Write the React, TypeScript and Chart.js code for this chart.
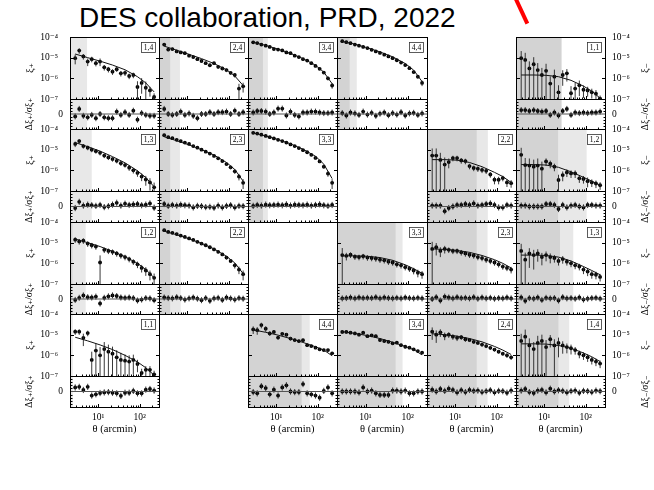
import React, { useEffect, useRef } from "react";
import { Chart, registerables } from "chart.js";
Chart.register(...registerables);

// ---------------- data ----------------
const THETA = [2.8, 3.5, 4.4, 5.6, 7.0, 8.8, 11.1, 14.0, 17.6, 22.1, 27.9, 35.1, 44.2, 55.6, 70.0, 88.1, 110.9, 139.6, 175.8, 221.3];
const MODEL_THETA = [2.8, 5.6, 11.1, 22.1, 44.2, 88.1, 139.6, 221.3];

const X_MIN = 2.1, X_MAX = 290;
const X_TICKS = [10, 100];
const X_TICK_LABELS = ["10¹", "10²"];
const X_MINOR = [3, 4, 5, 6, 7, 8, 9, 20, 30, 40, 50, 60, 70, 80, 90, 200];
const Y_MIN = 1e-7, Y_MAX = 1e-4;
const Y_TICKS = [1e-4, 1e-5, 1e-6, 1e-7];
const Y_TICK_LABELS = ["10⁻⁴", "10⁻⁵", "10⁻⁶", "10⁻⁷"];
const R_MIN = -5, R_MAX = 5;
const R_TICKS = [0];
const R_TICK_LABELS = ["0"];
const R_MINOR = [-4, -3, -2, -1, 1, 2, 3, 4];

// xi+ 1,4
const XI_P14 = [9.5e-6, 2.2e-5, 1.15e-5, 6.5e-6, 8.5e-6, 5.4e-6, 6.5e-6, 3.4e-6, 2.75e-6, 2.1e-6, 2.75e-6, 1.75e-6, 1.85e-6, 1.3e-6, 1.45e-6, 3.8e-7, 6.0e-7, 3.5e-7, 2.6e-7, 1.25e-7];
const ER_P14 = [0.5, 0.3, 0.3, 0.4, 0.3, 0.3, 0.4, 0.3, 0.3, 0.3, 0.25, 0.3, 0.3, 0.3, 0.3, 0.9, 0.7, 1.0, 0.5, 0.5];
const TH_P14 = [1.5e-5, 1.0e-5, 6.8e-6, 4.4e-6, 2.6e-6, 1.2e-6, 6e-7, 2.2e-7];
const RS_P14 = [-0.8, 1.7, -0.6, -1.1, -0.3, -1.4, 0, -1.1, -1.4, -1.4, 0.8, -0.3, 0.6, -0.3, 1.1, -1.9, 0.3, -0.3, -0.6, -0.6];
// xi+ 2,4
const XI_P24 = [4.3e-5, 2.45e-5, 2.6e-5, 2.0e-5, 1.8e-5, 1.65e-5, 1.25e-5, 1.07e-5, 8.5e-6, 6.9e-6, 5.4e-6, 4.3e-6, 5.4e-6, 3.6e-6, 3.0e-6, 2.5e-6, 1.85e-6, 1.45e-6, 3.2e-7, 4.1e-7];
const ER_P24 = [0.15, 0.15, 0.15, 0.15, 0.15, 0.15, 0.15, 0.15, 0.15, 0.15, 0.15, 0.15, 0.15, 0.2, 0.2, 0.2, 0.2, 0.25, 0.7, 0.5];
const TH_P24 = [3.6e-5, 2.3e-5, 1.45e-5, 9e-6, 5.2e-6, 2.6e-6, 1.3e-6, 4.5e-7];
const RS_P24 = [1.7, 0, -0.3, 0, 0.8, -0.3, 0.2, -0.6, -1.4, 0, 0, 0.6, 0, 0.6, 0.6, 0.8, 0, 1.1, 0, 0.6];
// xi+ 3,4
const XI_P34 = [5.5e-5, 5.1e-5, 4.3e-5, 3.8e-5, 3.3e-5, 2.6e-5, 2.45e-5, 2.25e-5, 1.8e-5, 1.65e-5, 1.25e-5, 1.07e-5, 8.5e-6, 7.2e-6, 5.4e-6, 4.0e-6, 2.9e-6, 1.9e-6, 1.0e-6, 4.5e-7];
const ER_P34 = [0.1, 0.1, 0.1, 0.1, 0.1, 0.1, 0.1, 0.1, 0.1, 0.1, 0.1, 0.1, 0.1, 0.1, 0.1, 0.12, 0.12, 0.15, 0.2, 0.3];
const TH_P34 = [5.6e-5, 3.9e-5, 2.6e-5, 1.6e-5, 9e-6, 4.3e-6, 2.0e-6, 5.5e-7];
const RS_P34 = [0.5, 1, 1, 0.8, 0, 0.5, 1.8, 1.8, -0.5, 0.8, -0.3, -0.8, 0.5, 0.5, 0.8, 0.8, 0.5, 0.3, 0.3, 0.5];
// xi+ 4,4
const XI_P44 = [6.3e-5, 5.6e-5, 5.0e-5, 4.3e-5, 3.8e-5, 3.3e-5, 2.9e-5, 2.4e-5, 2.0e-5, 1.7e-5, 1.4e-5, 1.15e-5, 9.5e-6, 7.5e-6, 5.8e-6, 4.4e-6, 3.1e-6, 2.0e-6, 1.2e-6, 6e-7];
const ER_P44 = [0.1, 0.1, 0.1, 0.1, 0.1, 0.1, 0.1, 0.1, 0.1, 0.1, 0.1, 0.1, 0.1, 0.1, 0.1, 0.12, 0.12, 0.15, 0.2, 0.3];
const TH_P44 = [6.2e-5, 4.5e-5, 3.0e-5, 1.9e-5, 1.1e-5, 5.2e-6, 2.5e-6, 7e-7];
const RS_P44 = [0.3, -0.5, 0.5, 0.2, -0.3, 0.8, -0.2, 0.4, -0.6, 0.1, 0.5, -0.4, 0.3, -0.2, 0.6, -0.5, 0.2, 0.4, -0.3, 0.2];
// xi- 1,1
const XI_M11 = [9.5e-6, 7.8e-6, 3.0e-6, 4.8e-6, 2.5e-6, 1.45e-6, 2.3e-6, 5.6e-7, 1.2e-6, 2.1e-7, 1.45e-6, 1.75e-6, 1.9e-7, 3.2e-7, 4.6e-7, 2.8e-7, 2.6e-7, 2.1e-7, 1.8e-7, 1.05e-7];
const ER_M11 = [1.2, 1.2, 1.2, 1.2, 1.2, 1.2, 1.2, 1.2, 1.2, 1.2, 0.7, 0.6, 1.2, 0.9, 0.7, 0.6, 0.5, 0.5, 0.5, 0.4];
const TH_M11 = [1.45e-6, 1.45e-6, 1.4e-6, 1.2e-6, 8e-7, 4.2e-7, 2.4e-7, 1.1e-7];
const RS_M11 = [1.3, 1.3, 1, 1.3, 1, 0.8, 1, -0.3, 0.5, -0.5, 1, 1.7, -0.3, 0.5, 0.3, 0.5, 0.3, 0.5, 0.5, 0.8];
// xi+ 1,3
const XI_P13 = [1.9e-5, 2.6e-5, 1.5e-5, 1.25e-5, 1.0e-5, 8.5e-6, 7e-6, 5.2e-6, 4.2e-6, 3.5e-6, 2.9e-6, 2.2e-6, 1.8e-6, 1.35e-6, 1.0e-6, 7.5e-7, 5e-7, 3.6e-7, 2.6e-7, 1.5e-7];
const ER_P13 = [0.3, 0.25, 0.25, 0.25, 0.25, 0.25, 0.25, 0.25, 0.25, 0.25, 0.25, 0.25, 0.25, 0.3, 0.3, 0.35, 0.4, 0.5, 0.6, 0.7];
const TH_P13 = [2.2e-5, 1.4e-5, 8.5e-6, 4.6e-6, 2.3e-6, 9.5e-7, 4.5e-7, 1.6e-7];
const RS_P13 = [-0.5, 1.5, 0.3, 0.6, 0.4, 0.2, 0.5, -0.2, 0.1, 0.6, 1.2, 0.3, 0.9, 0.5, 0.7, 0.8, 0.4, 0.6, 1.0, -0.4];
// xi+ 2,3
const XI_P23 = [5.0e-5, 4.0e-5, 3.6e-5, 3.0e-5, 2.6e-5, 2.2e-5, 1.9e-5, 1.5e-5, 1.25e-5, 1.0e-5, 8e-6, 6.5e-6, 5e-6, 3.8e-6, 2.8e-6, 2e-6, 1.4e-6, 9e-7, 5e-7, 2.5e-7];
const ER_P23 = [0.12, 0.12, 0.12, 0.12, 0.12, 0.12, 0.12, 0.12, 0.12, 0.12, 0.12, 0.12, 0.12, 0.15, 0.15, 0.15, 0.2, 0.25, 0.35, 0.5];
const TH_P23 = [4.2e-5, 2.7e-5, 1.7e-5, 1.0e-5, 5.5e-6, 2.4e-6, 1.1e-6, 3e-7];
const RS_P23 = [0.8, 0.2, 0.5, 0.3, 0.6, 0.4, 0.3, -0.3, 0.2, 0.1, -0.2, -0.1, -0.4, 0.3, -0.3, 0.2, 0.4, -0.3, 0.2, 0.1];
// xi+ 3,3
const XI_P33 = [6.5e-5, 6.0e-5, 5.3e-5, 4.6e-5, 4.0e-5, 3.5e-5, 3.0e-5, 2.6e-5, 2.2e-5, 1.8e-5, 1.5e-5, 1.2e-5, 9.5e-6, 7.5e-6, 5.6e-6, 4e-6, 2.7e-6, 1.5e-6, 7e-7, 2.5e-7];
const ER_P33 = [0.1, 0.1, 0.1, 0.1, 0.1, 0.1, 0.1, 0.1, 0.1, 0.1, 0.1, 0.1, 0.1, 0.1, 0.12, 0.15, 0.15, 0.2, 0.3, 0.5];
const TH_P33 = [6.5e-5, 4.6e-5, 3.1e-5, 1.9e-5, 1.05e-5, 4.8e-6, 2.0e-6, 4e-7];
const RS_P33 = [0.2, 0.5, 0.3, 0.6, 0.4, 0.5, 0.6, 0.4, 0.7, 0.3, 0.6, 0.5, 0.4, 0.6, 0.3, 0.5, 0.7, 0.4, 0.2, 0.5];
// xi- 2,2
const XI_M22 = [5.2e-6, 5.2e-6, 3.2e-6, 1.9e-6, 2.5e-6, 3.9e-6, 3.9e-6, 3.0e-6, 2.8e-6, 1.6e-6, 1.3e-6, 1.2e-6, 1.05e-6, 9.5e-7, 6.3e-7, 3.5e-7, 3.5e-7, 4.2e-7, 2.6e-7, 2.4e-7];
const ER_M22 = [1.2, 1.2, 1.2, 1.2, 0.5, 0.3, 0.3, 0.3, 0.3, 0.3, 0.3, 0.3, 0.3, 0.3, 0.3, 0.4, 0.4, 0.3, 0.4, 0.4];
const TH_M22 = [3.3e-6, 3.3e-6, 3.1e-6, 2.4e-6, 1.5e-6, 8e-7, 5e-7, 2.6e-7];
const RS_M22 = [0.3, 0.3, 0.3, -1.5, -0.5, 0, 0.5, 0.5, 0.8, 0.5, 1, 0.3, 0.5, 0.8, 1, 0.5, -0.3, -0.3, 0.5, 0.3];
// xi- 1,2
const XI_M12 = [5.6e-6, 1.8e-6, 1.7e-6, 1.5e-6, 1.7e-6, 1.2e-6, 2.7e-6, 2.1e-6, 1.5e-6, 3.4e-7, 5.9e-7, 7.9e-7, 7.1e-7, 7.1e-7, 4.1e-7, 3.8e-7, 3.0e-7, 2.6e-7, 2.3e-7, 1.9e-7];
const ER_M12 = [1.2, 1.2, 1.2, 1.2, 1.2, 1.2, 0.4, 0.4, 0.4, 0.8, 0.5, 0.4, 0.4, 0.4, 0.4, 0.4, 0.5, 0.4, 0.4, 0.4];
const TH_M12 = [1.9e-6, 1.9e-6, 1.8e-6, 1.4e-6, 8.5e-7, 4.6e-7, 3e-7, 1.9e-7];
const RS_M12 = [0.3, 0.3, 0, 0, 0, 0, 0.8, 0.8, 0.5, -0.8, 0.5, -0.3, 0.3, 0.5, 0, -0.3, 0.5, 0.5, 0.3, 0.3];
// xi+ 1,2
const XI_P12 = [1.4e-5, 1.15e-5, 1.25e-5, 9e-6, 7.5e-6, 6.5e-6, 1.1e-6, 4.5e-6, 4e-6, 3.6e-6, 3e-6, 2.4e-6, 2e-6, 1.6e-6, 1.2e-6, 9e-7, 6e-7, 4.5e-7, 3e-7, 2e-7];
const ER_P12 = [0.3, 0.3, 0.3, 0.3, 0.3, 0.3, 1.2, 0.3, 0.3, 0.3, 0.3, 0.3, 0.3, 0.3, 0.3, 0.35, 0.4, 0.45, 0.5, 0.6];
const TH_P12 = [1.5e-5, 1.0e-5, 6.5e-6, 3.8e-6, 2.1e-6, 1.0e-6, 5e-7, 2e-7];
const RS_P12 = [-0.3, 0.4, 1.2, 0.6, 0.5, 0.8, -1.5, 0.4, 0.9, 1.2, 1.0, 0.5, 0.4, 0.5, 0.3, -0.5, -0.2, 0.3, 0.2, -0.4];
// xi+ 2,2
const XI_P22 = [4e-5, 3.3e-5, 3e-5, 2.6e-5, 2.2e-5, 1.9e-5, 1.6e-5, 1.35e-5, 1.1e-5, 9e-6, 7.5e-6, 6e-6, 4.7e-6, 3.6e-6, 2.7e-6, 1.9e-6, 1.3e-6, 8e-7, 5e-7, 3e-7];
const ER_P22 = [0.15, 0.15, 0.15, 0.15, 0.15, 0.15, 0.15, 0.15, 0.15, 0.15, 0.15, 0.15, 0.15, 0.15, 0.15, 0.2, 0.2, 0.3, 0.4, 0.5];
const TH_P22 = [3.6e-5, 2.4e-5, 1.55e-5, 9.2e-6, 5e-6, 2.2e-6, 1.05e-6, 3.2e-7];
const RS_P22 = [0.5, 0.3, 0.2, 0.6, 0.3, -0.2, 0.2, 0.5, 0.1, -0.4, 0.3, -0.6, 0.2, 0.4, -0.3, 0.5, 0.2, -0.2, 0.3, 0.1];
// xi- 3,3
const XI_M33 = [2.5e-6, 2.3e-6, 2.6e-6, 2.1e-6, 2.0e-6, 2.2e-6, 1.9e-6, 1.8e-6, 1.7e-6, 1.5e-6, 1.4e-6, 1.2e-6, 1.1e-6, 9e-7, 8e-7, 6.5e-7, 5.5e-7, 4.5e-7, 3.5e-7, 3e-7];
const ER_M33 = [1.2, 0.4, 0.3, 0.3, 0.3, 0.3, 0.3, 0.3, 0.3, 0.3, 0.3, 0.3, 0.3, 0.3, 0.3, 0.3, 0.3, 0.35, 0.4, 0.4];
const TH_M33 = [2.3e-6, 2.3e-6, 2.2e-6, 1.9e-6, 1.4e-6, 8.5e-7, 5.5e-7, 3.3e-7];
const RS_M33 = [0.2, 0.3, 0.5, 0.2, 0.5, 0.3, 0.4, 0.3, 0.6, 0.2, 0.5, 0.3, 0.2, 0.4, 0.2, 0.5, 0.3, 0.2, 0.4, 0.2];
// xi- 2,3
const XI_M23 = [5e-6, 6e-6, 4e-6, 5e-6, 4.5e-6, 4e-6, 4e-6, 3.4e-6, 3e-6, 2.6e-6, 2.4e-6, 2e-6, 1.8e-6, 1.5e-6, 1.3e-6, 1.1e-6, 9e-7, 7e-7, 6e-7, 5e-7];
const ER_M23 = [1.2, 0.6, 0.5, 0.4, 0.3, 0.3, 0.3, 0.3, 0.3, 0.3, 0.3, 0.3, 0.3, 0.3, 0.3, 0.3, 0.3, 0.3, 0.3, 0.35];
const TH_M23 = [5e-6, 4.7e-6, 4.2e-6, 3.4e-6, 2.4e-6, 1.5e-6, 1.0e-6, 6e-7];
const RS_M23 = [0, 0.6, -0.5, 0.8, 0.5, 0.2, 0.6, 0.3, 0.4, 0.2, 0.6, 0.1, 0.5, 0.2, 0.4, 0.1, 0.3, 0.2, 0.5, 0.2];
// xi- 1,3
const XI_M13 = [4e-6, 1.5e-6, 3e-6, 2.5e-6, 3e-6, 2e-6, 2.5e-6, 2e-6, 1.8e-6, 1.3e-6, 1.6e-6, 1.2e-6, 1e-6, 8e-7, 7e-7, 5e-7, 4e-7, 3e-7, 2.8e-7, 2.2e-7];
const ER_M13 = [1.2, 1.2, 0.8, 0.8, 0.6, 0.6, 0.5, 0.5, 0.4, 0.4, 0.4, 0.35, 0.35, 0.35, 0.35, 0.4, 0.4, 0.4, 0.4, 0.4];
const TH_M13 = [2.5e-6, 2.5e-6, 2.4e-6, 2.0e-6, 1.3e-6, 7e-7, 4.5e-7, 2.8e-7];
const RS_M13 = [0.5, -0.6, 0.3, 0.1, 0.5, -0.3, 0.4, 0.2, 0.3, -0.5, 0.6, 0.2, 0.3, 0.1, 0.5, -0.2, 0.1, 0.3, 0.4, 0.1];
// xi+ 1,1
const XI_P11 = [1.4e-5, 1.4e-5, 7e-6, 1.2e-5, 6e-7, 1.7e-6, 1.0e-6, 2e-6, 1.5e-6, 1.2e-6, 8e-7, 6e-7, 5.5e-7, 5e-7, 6e-7, 3.8e-7, 1.4e-7, 2e-7, 2e-7, 1.2e-7];
const ER_P11 = [0.3, 0.3, 0.6, 0.3, 1.5, 1.2, 1.5, 1.2, 1.2, 1.2, 1.2, 1.2, 1.0, 1.0, 0.8, 0.6, 0.6, 0.5, 0.5, 0.5];
const TH_P11 = [7.5e-6, 5e-6, 3.2e-6, 1.9e-6, 1.0e-6, 4.8e-7, 2.5e-7, 1.1e-7];
const RS_P11 = [1.3, 1.5, 0.5, 1.5, -1.3, -0.9, -0.5, -0.3, -0.2, -0.4, -0.6, -1.4, -0.4, -0.4, 0.2, -0.6, -0.6, 0.6, 0.8, 0.3];
// xi- 4,4
const XI_M44 = [1.8e-5, 1.65e-5, 2.9e-5, 1.95e-5, 1.15e-5, 1.35e-5, 7.2e-6, 1.1e-5, 1.0e-5, 6.5e-6, 5.5e-6, 4.9e-6, 5.4e-6, 3.1e-6, 2.8e-6, 2.35e-6, 1.95e-6, 1.8e-6, 1.8e-6, 1.25e-6];
const ER_M44 = [0.4, 0.4, 0.3, 0.3, 0.25, 0.2, 0.2, 0.2, 0.2, 0.2, 0.2, 0.15, 0.15, 0.15, 0.15, 0.15, 0.15, 0.15, 0.15, 0.15];
const TH_M44 = [1.7e-5, 1.3e-5, 9.5e-6, 6.5e-6, 4.2e-6, 2.6e-6, 1.8e-6, 9.5e-7];
const RS_M44 = [-0.2, -0.6, 1.7, 1.1, -0.9, 0.6, -1.3, 1.3, 2, 0, -0.2, -0.2, 2.4, -0.6, -0.9, -1.3, -2, 0.2, 1.3, -0.6];
// xi- 3,4
const XI_M34 = [1.35e-5, 1.35e-5, 1.25e-5, 1.15e-5, 1.0e-5, 1.25e-5, 8.5e-6, 9.3e-6, 8.5e-6, 5.5e-6, 4.9e-6, 4.5e-6, 3.8e-6, 4.1e-6, 3.1e-6, 2.6e-6, 2.35e-6, 1.95e-6, 1.6e-6, 1.35e-6];
const ER_M34 = [0.2, 0.2, 0.15, 0.15, 0.15, 0.15, 0.15, 0.15, 0.15, 0.15, 0.15, 0.15, 0.15, 0.15, 0.15, 0.15, 0.15, 0.15, 0.15, 0.15];
const TH_M34 = [1.4e-5, 1.15e-5, 9e-6, 6.5e-6, 4.3e-6, 2.7e-6, 1.9e-6, 1.05e-6];
const RS_M34 = [0, 0, 0, 0, -0.3, 1.3, 0, 0.3, -0.6, -1.1, -1.1, -1.1, 0.3, 0.3, 0, 0.3, -0.6, -0.6, 0, 0];
// xi- 2,4
const XI_M24 = [1.4e-5, 1.0e-5, 1.3e-5, 9e-6, 1.0e-5, 8e-6, 7e-6, 7.5e-6, 6e-6, 5.5e-6, 4.5e-6, 4e-6, 3.3e-6, 2.8e-6, 2.3e-6, 1.9e-6, 1.5e-6, 1.2e-6, 1.0e-6, 8e-7];
const ER_M24 = [0.6, 0.6, 0.4, 0.4, 0.3, 0.3, 0.3, 0.25, 0.25, 0.2, 0.2, 0.2, 0.2, 0.2, 0.2, 0.2, 0.2, 0.2, 0.25, 0.25];
const TH_M24 = [1.1e-5, 1.0e-5, 8.5e-6, 6.5e-6, 4.5e-6, 2.7e-6, 1.8e-6, 1.1e-6];
const RS_M24 = [0.6, 0, 0.8, 0.2, 0.9, 0.5, -0.3, 0.4, -0.2, 0.5, 0.2, 0.3, -0.2, 0.1, 0.4, -0.3, 0.2, 0.1, -0.4, 0.3];
// xi- 1,4
const XI_M14 = [5e-6, 8e-6, 3e-6, 2e-6, 4e-6, 5e-6, 2.5e-6, 6e-6, 3e-6, 4e-6, 3e-6, 2.5e-6, 2.2e-6, 1.8e-6, 1.2e-6, 1.0e-6, 8e-7, 6e-7, 5e-7, 4e-7];
const ER_M14 = [1.2, 1.2, 1.2, 1.2, 1.2, 1.0, 1.2, 0.6, 1.0, 0.8, 0.6, 0.5, 0.5, 0.4, 0.4, 0.4, 0.4, 0.4, 0.4, 0.4];
const TH_M14 = [3.6e-6, 3.6e-6, 3.5e-6, 3e-6, 2.2e-6, 1.3e-6, 8.5e-7, 5e-7];
const RS_M14 = [0.3, 0.8, -0.2, -0.5, 0.3, 0.5, -0.3, 0.9, 0, 0.4, 0.2, -0.3, 0.1, 0.3, -0.4, 0.2, 0.1, -0.2, 0.3, 0.1];

type Panel = {
  label: string; col: number; row: number; minus: boolean;
  dark: number; light: number;
  xi: number[]; err: number[]; res: number[]; model: number[];
};

// scale cuts (theta, arcmin)
const PANELS: Panel[] = [
  { label: "1,4", col: 0, row: 0, minus: false, dark: 0, light: 5.4, xi: XI_P14, err: ER_P14, res: RS_P14, model: TH_P14 },
  { label: "2,4", col: 1, row: 0, minus: false, dark: 3.9, light: 6.7, xi: XI_P24, err: ER_P24, res: RS_P24, model: TH_P24 },
  { label: "3,4", col: 2, row: 0, minus: false, dark: 4.8, light: 6.3, xi: XI_P34, err: ER_P34, res: RS_P34, model: TH_P34 },
  { label: "4,4", col: 3, row: 0, minus: false, dark: 4.2, light: 6.2, xi: XI_P44, err: ER_P44, res: RS_P44, model: TH_P44 },
  { label: "1,1", col: 5, row: 0, minus: true, dark: 26, light: 26, xi: XI_M11, err: ER_M11, res: RS_M11, model: TH_M11 },
  { label: "1,3", col: 0, row: 1, minus: false, dark: 0, light: 7.0, xi: XI_P13, err: ER_P13, res: RS_P13, model: TH_P13 },
  { label: "2,3", col: 1, row: 1, minus: false, dark: 3.9, light: 6.7, xi: XI_P23, err: ER_P23, res: RS_P23, model: TH_P23 },
  { label: "3,3", col: 2, row: 1, minus: false, dark: 4.8, light: 6.3, xi: XI_P33, err: ER_P33, res: RS_P33, model: TH_P33 },
  { label: "2,2", col: 4, row: 1, minus: true, dark: 33, light: 61, xi: XI_M22, err: ER_M22, res: RS_M22, model: TH_M22 },
  { label: "1,2", col: 5, row: 1, minus: true, dark: 21.6, light: 105, xi: XI_M12, err: ER_M12, res: RS_M12, model: TH_M12 },
  { label: "1,2", col: 0, row: 2, minus: false, dark: 2.4, light: 5.0, xi: XI_P12, err: ER_P12, res: RS_P12, model: TH_P12 },
  { label: "2,2", col: 1, row: 2, minus: false, dark: 3.9, light: 7.0, xi: XI_P22, err: ER_P22, res: RS_P22, model: TH_P22 },
  { label: "3,3", col: 3, row: 2, minus: true, dark: 52, light: 76, xi: XI_M33, err: ER_M33, res: RS_M33, model: TH_M33 },
  { label: "2,3", col: 4, row: 2, minus: true, dark: 33, light: 60, xi: XI_M23, err: ER_M23, res: RS_M23, model: TH_M23 },
  { label: "1,3", col: 5, row: 2, minus: true, dark: 24, light: 50, xi: XI_M13, err: ER_M13, res: RS_M13, model: TH_M13 },
  { label: "1,1", col: 0, row: 3, minus: false, dark: 0, light: 2.45, xi: XI_P11, err: ER_P11, res: RS_P11, model: TH_P11 },
  { label: "4,4", col: 2, row: 3, minus: true, dark: 41, light: 64, xi: XI_M44, err: ER_M44, res: RS_M44, model: TH_M44 },
  { label: "3,4", col: 3, row: 3, minus: true, dark: 52, light: 76, xi: XI_M34, err: ER_M34, res: RS_M34, model: TH_M34 },
  { label: "2,4", col: 4, row: 3, minus: true, dark: 33, light: 60, xi: XI_M24, err: ER_M24, res: RS_M24, model: TH_M24 },
  { label: "1,4", col: 5, row: 3, minus: true, dark: 22, light: 40, xi: XI_M14, err: ER_M14, res: RS_M14, model: TH_M14 },
];

// ---------------- layout / style ----------------
const COL_X = [70, 159, 248, 337, 427, 516, 605];
const ROW_Y = [37, 129, 222, 314, 407];
const XI_H = 62;
const DARK = "#d3d3d3";
const LIGHT = "#e8e8e8";
const SERIF = '"Liberation Serif", "DejaVu Serif", serif';

function makeDecor(p: Panel) {
  return {
    id: "decor",
    beforeDatasetsDraw(chart: any) {
      const { ctx, chartArea: a, scales } = chart;
      const x = scales.x;
      ctx.save();
      if (p.light > 0) {
        const xr = Math.min(x.getPixelForValue(p.light), a.right);
        ctx.fillStyle = LIGHT;
        ctx.fillRect(a.left, a.top, xr - a.left, a.bottom - a.top);
      }
      if (p.dark > 0) {
        const xr = Math.min(x.getPixelForValue(p.dark), a.right);
        ctx.fillStyle = DARK;
        ctx.fillRect(a.left, a.top, xr - a.left, a.bottom - a.top);
      }
      ctx.restore();
    },
    beforeDatasetDraw(chart: any, args: any) {
      const { ctx } = chart;
      const m = args.meta;
      ctx.save();
      ctx.beginPath();
      ctx.rect(m.xScale.left, m.yScale.top, m.xScale.right - m.xScale.left, m.yScale.bottom - m.yScale.top);
      ctx.clip();
    },
    afterDatasetDraw(chart: any) {
      chart.ctx.restore();
    },
    afterDatasetsDraw(chart: any) {
      const { ctx, scales } = chart;
      const x = scales.x, y = scales.y, r = scales.res;
      const L = Math.round(x.left) + 0.5, R = Math.round(x.right) + 0.5;
      const yT = Math.round(y.top) + 0.5, yB = Math.round(y.bottom) + 0.5, rB = Math.round(r.bottom) + 0.5;
      ctx.save();
      ctx.strokeStyle = "#000";
      ctx.lineWidth = 1;
      ctx.beginPath();
      for (const v of X_TICKS) {
        const px = Math.round(x.getPixelForValue(v)) + 0.5;
        for (const b of [yB, rB]) { ctx.moveTo(px, b); ctx.lineTo(px, b - 3.5); }
      }
      for (const v of X_MINOR) {
        const px = Math.round(x.getPixelForValue(v)) + 0.5;
        for (const b of [yB, rB]) { ctx.moveTo(px, b); ctx.lineTo(px, b - 2); }
      }
      for (const v of [1e-5, 1e-6]) {
        const py = Math.round(y.getPixelForValue(v)) + 0.5;
        ctx.moveTo(L, py); ctx.lineTo(L + 3.5, py);
        ctx.moveTo(R, py); ctx.lineTo(R - 3.5, py);
      }
      for (const v of R_MINOR) {
        const py = Math.round(r.getPixelForValue(v)) + 0.5;
        ctx.moveTo(L, py); ctx.lineTo(L + 2, py);
        ctx.moveTo(R, py); ctx.lineTo(R - 2, py);
      }
      ctx.stroke();
      ctx.strokeRect(L, yT, R - L, yB - yT);
      ctx.strokeRect(L, yB, R - L, rB - yB);
      // bin-pair label box
      ctx.font = "7.5px " + SERIF;
      const tw = ctx.measureText(p.label).width;
      const bw = Math.round(tw + 5), bh = 10;
      const bx = Math.round(R - 5 - bw) + 0.5, by = Math.round(yT + 4) + 0.5;
      ctx.fillStyle = "#fff";
      ctx.fillRect(bx, by, bw, bh);
      ctx.lineWidth = 0.8;
      ctx.strokeStyle = "#333";
      ctx.strokeRect(bx, by, bw, bh);
      ctx.fillStyle = "#000";
      ctx.textAlign = "center";
      ctx.textBaseline = "middle";
      ctx.fillText(p.label, bx + bw / 2, by + bh / 2 + 0.5);
      // right-hand axis titles (read bottom to top, as on the left)
      if (p.col === 5) {
        const sgn = "₋";
        const tx = R + 40;
        ctx.fillStyle = "#000";
        ctx.font = "10.5px " + SERIF;
        ctx.save();
        ctx.translate(tx, (y.top + y.bottom) / 2);
        ctx.rotate(-Math.PI / 2);
        ctx.fillText("ξ" + sgn, 0, 0);
        ctx.restore();
        ctx.save();
        ctx.translate(tx, (r.top + r.bottom) / 2);
        ctx.rotate(-Math.PI / 2);
        ctx.font = "9.5px " + SERIF;
        ctx.fillText("Δξ" + sgn + "/σξ" + sgn, 0, 0);
        ctx.restore();
      }
      ctx.restore();
    },
  };
}

function PanelChart({ p }: { p: Panel }) {
  const ref = useRef<HTMLCanvasElement>(null);
  const w = COL_X[p.col + 1] - COL_X[p.col];
  const h = ROW_Y[p.row + 1] - ROW_Y[p.row];
  const resH = h - XI_H;
  const padL = p.col === 0 ? 46 : 4;
  const padR = p.col === 5 ? 46 : 4;
  const padT = 20;
  const isBottom = p.row === 3;
  const padB = isBottom ? 30 : 20;
  const left = COL_X[p.col] - padL;
  const top = ROW_Y[p.row] - padT;
  const cw = w + padL + padR;
  const ch = h + padT + padB;

  useEffect(() => {
    const pts = p.xi.map((v, i) => ({ x: THETA[i], y: v }));
    const errs: any[] = [];
    p.xi.forEach((v, i) => {
      errs.push({ x: THETA[i], y: Math.max(v * (1 - p.err[i]), 1e-9) });
      errs.push({ x: THETA[i], y: v * (1 + p.err[i]) });
      errs.push({ x: THETA[i], y: null });
    });
    const model = p.model.map((v, i) => ({ x: MODEL_THETA[i], y: v }));
    const rpts = p.res.map((v, i) => ({ x: THETA[i], y: v }));
    const rerrs: any[] = [];
    p.res.forEach((v, i) => {
      rerrs.push({ x: THETA[i], y: v - 1 });
      rerrs.push({ x: THETA[i], y: v + 1 });
      rerrs.push({ x: THETA[i], y: null });
    });
    const zero = [{ x: X_MIN, y: 0 }, { x: X_MAX, y: 0 }];
    const sgn = p.minus ? "₋" : "₊";
    const tickFont = { family: SERIF, size: 9.5 };
    const titleFont = { family: SERIF, size: 10.5 };

    const scales: any = {
      x: {
        type: "logarithmic", position: "bottom", min: X_MIN, max: X_MAX,
        grid: { display: false, drawTicks: false }, border: { display: false },
        afterBuildTicks: (s: any) => { s.ticks = X_TICKS.map((v) => ({ value: v })); },
        ticks: { display: isBottom, autoSkip: false, maxRotation: 0, padding: 5, color: "#000", font: tickFont,
          callback: (_v: any, i: number) => X_TICK_LABELS[i] },
        title: { display: isBottom, text: "θ (arcmin)", color: "#000", font: titleFont, padding: { top: 0, bottom: 1 } },
        afterFit: (s: any) => { s.height = padB; },
      },
      y: {
        type: "logarithmic", position: "left", stack: "L", stackWeight: XI_H, weight: 2, min: Y_MIN, max: Y_MAX,
        grid: { display: false, drawTicks: false }, border: { display: false },
        afterBuildTicks: (s: any) => { s.ticks = Y_TICKS.map((v) => ({ value: v })); },
        ticks: { display: p.col === 0, autoSkip: false, padding: 12, color: "#000", font: tickFont,
          callback: (_v: any, i: number) => Y_TICK_LABELS[i] },
        title: { display: p.col === 0, text: "ξ" + sgn, color: "#000", font: titleFont, padding: 0 },
        afterFit: (s: any) => { s.width = padL; },
      },
      res: {
        type: "linear", position: "left", stack: "L", stackWeight: resH, weight: 1, min: R_MIN, max: R_MAX,
        grid: { display: false, drawTicks: false }, border: { display: false },
        afterBuildTicks: (s: any) => { s.ticks = R_TICKS.map((v) => ({ value: v })); },
        ticks: { display: p.col === 0, autoSkip: false, padding: 7, color: "#000", font: tickFont,
          callback: (_v: any, i: number) => R_TICK_LABELS[i] },
        title: { display: p.col === 0, text: "Δξ" + sgn + "/σξ" + sgn, color: "#000", font: { family: SERIF, size: 9.5 }, padding: 0 },
        afterFit: (s: any) => { s.width = padL; },
      },
    };
    if (p.col === 5) {
      scales.yRight = {
        type: "logarithmic", position: "right", stack: "R", stackWeight: XI_H, weight: 1, min: Y_MIN, max: Y_MAX,
        grid: { display: false, drawTicks: false }, border: { display: false },
        afterBuildTicks: (s: any) => { s.ticks = Y_TICKS.map((v) => ({ value: v })); },
        ticks: { display: true, autoSkip: false, padding: 7, color: "#000", font: tickFont,
          callback: (_v: any, i: number) => Y_TICK_LABELS[i] },
        title: { display: false },
        afterFit: (s: any) => { s.width = padR; },
      };
      scales.yResRight = {
        type: "linear", position: "right", stack: "R", stackWeight: resH, weight: 2, min: R_MIN, max: R_MAX,
        grid: { display: false, drawTicks: false }, border: { display: false },
        afterBuildTicks: (s: any) => { s.ticks = R_TICKS.map((v) => ({ value: v })); },
        ticks: { display: true, autoSkip: false, padding: 7, color: "#000", font: tickFont,
          callback: (_v: any, i: number) => R_TICK_LABELS[i] },
        title: { display: false },
        afterFit: (s: any) => { s.width = padR; },
      };
    }

    const chart = new Chart(ref.current as HTMLCanvasElement, {
      type: "line",
      data: {
        datasets: [
          { data: model, xAxisID: "x", yAxisID: "y", borderColor: "#111", borderWidth: 1, pointRadius: 0, tension: 0 },
          { data: errs, xAxisID: "x", yAxisID: "y", borderColor: "#222", borderWidth: 0.9, pointRadius: 0, spanGaps: false },
          { data: pts, xAxisID: "x", yAxisID: "y", showLine: false, pointRadius: 1.9, pointBackgroundColor: "#000", pointBorderWidth: 0 },
          { data: zero, xAxisID: "x", yAxisID: "res", borderColor: "#555", borderWidth: 1, pointRadius: 0 },
          { data: rerrs, xAxisID: "x", yAxisID: "res", borderColor: "#222", borderWidth: 0.9, pointRadius: 0, spanGaps: false },
          { data: rpts, xAxisID: "x", yAxisID: "res", showLine: false, pointRadius: 1.9, pointBackgroundColor: "#000", pointBorderWidth: 0 },
        ] as any,
      },
      options: {
        animation: false,
        responsive: false,
        maintainAspectRatio: false,
        devicePixelRatio: 1,
        events: [],
        layout: { padding: { top: padT, left: 0, right: p.col === 5 ? 0 : padR, bottom: 0 } },
        plugins: { legend: { display: false }, tooltip: { enabled: false } },
        scales,
      } as any,
      plugins: [makeDecor(p)],
    });
    return () => chart.destroy();
  }, []);

  return (
    <canvas
      ref={ref}
      width={cw}
      height={ch}
      style={{ position: "absolute", left, top, width: cw, height: ch }}
    />
  );
}

export default function App() {
  return (
    <div style={{ position: "fixed", left: 0, top: 0, width: 654, height: 490, background: "#fff", overflow: "hidden" }}>
      <div style={{ position: "absolute", left: 79, top: 2, fontFamily: '"Liberation Sans", Arial, sans-serif', fontSize: 28, color: "#000", whiteSpace: "nowrap", lineHeight: "32px" }}>
        DES collaboration, PRD, 2022
      </div>
      <div style={{ position: "absolute", left: 519, top: -5, width: 4, height: 30, background: "#ff0000", transform: "rotate(-25deg)" }} />
      {PANELS.map((p, i) => <PanelChart key={i} p={p} />)}
    </div>
  );
}
